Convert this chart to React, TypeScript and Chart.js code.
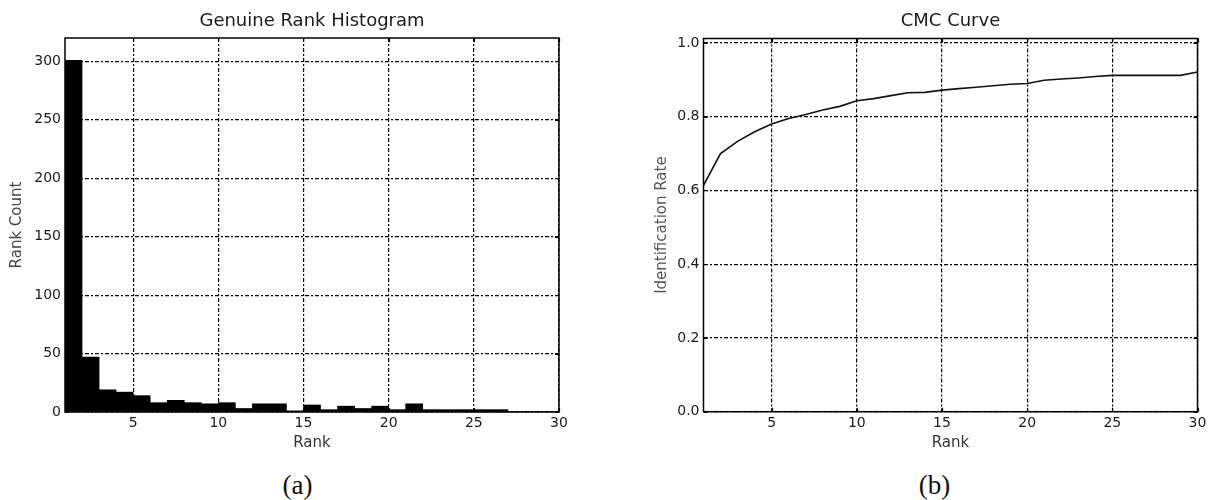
import React, { useEffect, useRef } from "react";
import { Chart, registerables } from "chart.js";

Chart.register(...registerables);

// ---- data ----
const histRanks = [1, 2, 3, 4, 5, 6, 7, 8, 9, 10, 11, 12, 13, 14, 15, 16, 17, 18, 19, 20, 21, 22, 23, 24, 25, 26, 27, 28, 29];
const histCounts = [301, 47, 19, 17, 14, 8, 10, 8, 7, 8, 3, 7, 7, 1, 6, 2, 5, 3, 5, 2, 7, 2, 2, 2, 2, 2, 0, 0, 0];

const cmcRanks = [1, 2, 3, 4, 5, 6, 7, 8, 9, 10, 11, 12, 13, 14, 15, 16, 17, 18, 19, 20, 21, 22, 23, 24, 25, 26, 27, 28, 29, 30];
const cmcRates = [0.614, 0.7, 0.733, 0.759, 0.78, 0.795, 0.806, 0.818, 0.828, 0.843, 0.849, 0.857, 0.865, 0.866, 0.872, 0.876, 0.88, 0.884, 0.888, 0.89, 0.899, 0.902, 0.905, 0.909, 0.912, 0.912, 0.912, 0.912, 0.912, 0.921];

const rankTicks = [5, 10, 15, 20, 25, 30];
const countTicks = [0, 50, 100, 150, 200, 250, 300];
const rateTicks = [0, 0.2, 0.4, 0.6, 0.8, 1.0];

const FONT = "'DejaVu Sans', Verdana, sans-serif";
const TEXT = "#1a1a1a";

function framePlugin(title: string) {
  return {
    id: "frame",
    afterDatasetsDraw(chart: any) {
      const { ctx, chartArea: a } = chart;
      const xs = chart.scales.x;
      const ys = chart.scales.y;
      ctx.save();
      ctx.strokeStyle = "#000";
      ctx.lineWidth = 1.5;
      ctx.strokeRect(a.left, a.top, a.right - a.left, a.bottom - a.top);
      // small inward tick marks
      ctx.lineWidth = 1.2;
      ctx.beginPath();
      xs.ticks.forEach((t: any) => {
        const px = Math.round(xs.getPixelForValue(t.value)) + 0.5;
        ctx.moveTo(px, a.bottom);
        ctx.lineTo(px, a.bottom - 4);
        ctx.moveTo(px, a.top);
        ctx.lineTo(px, a.top + 4);
      });
      ys.ticks.forEach((t: any) => {
        const py = Math.round(ys.getPixelForValue(t.value)) + 0.5;
        ctx.moveTo(a.left, py);
        ctx.lineTo(a.left + 4, py);
        ctx.moveTo(a.right, py);
        ctx.lineTo(a.right - 4, py);
      });
      ctx.stroke();
      ctx.restore();
    },
    afterDraw(chart: any) {
      const { ctx, chartArea: a } = chart;
      ctx.save();
      ctx.fillStyle = TEXT;
      ctx.font = `18px ${FONT}`;
      ctx.textAlign = "center";
      ctx.textBaseline = "middle";
      ctx.fillText(title, (a.left + a.right) / 2, 21.5);
      ctx.restore();
    },
  };
}

function gridOpts() {
  return {
    grid: { color: "#000", lineWidth: 1.2, drawTicks: false },
    border: { display: false, dash: [4, 2, 2, 2] },
  };
}

function makeX(yAxisHeight: number) {
  return {
    type: "linear" as const,
    min: 1,
    max: 30,
    offset: false,
    ...gridOpts(),
    grid: { color: "#000", lineWidth: 1.2, drawTicks: false, offset: false },
    afterBuildTicks: (s: any) => {
      s.ticks = rankTicks.map((v) => ({ value: v }));
    },
    afterFit: (s: any) => {
      s.height = yAxisHeight;
    },
    ticks: {
      autoSkip: false,
      maxRotation: 0,
      padding: 3,
      color: TEXT,
      font: { family: FONT, size: 14 },
      callback: (v: any) => String(v),
    },
    title: {
      display: true,
      text: "Rank",
      color: "#333",
      font: { family: FONT, size: 15 },
      padding: { top: 0, bottom: 8 },
    },
  };
}

function HistChart() {
  const ref = useRef<HTMLCanvasElement>(null);
  useEffect(() => {
    const chart = new Chart(ref.current as HTMLCanvasElement, {
      type: "bar",
      data: {
        datasets: [
          {
            data: histRanks.map((r, i) => ({ x: r + 0.5, y: histCounts[i] })),
            backgroundColor: "#000",
            borderWidth: 0,
            barPercentage: 1,
            categoryPercentage: 1,
          },
        ],
      },
      options: {
        animation: false,
        responsive: false,
        devicePixelRatio: 1,
        layout: { padding: { left: 0, top: 38, right: 41, bottom: 0 } },
        plugins: { legend: { display: false }, tooltip: { enabled: false } },
        scales: {
          x: makeX(48),
          y: {
            type: "linear",
            min: 0,
            max: 320,
            ...gridOpts(),
            afterBuildTicks: (s: any) => {
              s.ticks = countTicks.map((v) => ({ value: v }));
            },
            afterFit: (s: any) => {
              s.width = 65;
            },
            ticks: {
              autoSkip: false,
              padding: 4,
              color: TEXT,
              font: { family: FONT, size: 14 },
              callback: (v: any) => String(v),
            },
            title: {
              display: true,
              text: "Rank Count",
              color: "#444",
              font: { family: FONT, size: 15 },
              padding: { top: 8, bottom: 0 },
            },
          },
        },
      } as any,
      plugins: [framePlugin("Genuine Rank Histogram")],
    });
    return () => chart.destroy();
  }, []);
  return <canvas ref={ref} width={600} height={460} style={{ position: "absolute", left: 0, top: 0 }} />;
}

function CmcChart() {
  const ref = useRef<HTMLCanvasElement>(null);
  useEffect(() => {
    const chart = new Chart(ref.current as HTMLCanvasElement, {
      type: "line",
      data: {
        datasets: [
          {
            data: cmcRanks.map((r, i) => ({ x: r, y: cmcRates[i] })),
            borderColor: "#111",
            borderWidth: 1.6,
            pointRadius: 0,
            tension: 0,
            fill: false,
          },
        ],
      },
      options: {
        animation: false,
        responsive: false,
        devicePixelRatio: 1,
        layout: { padding: { left: 0, top: 38.5, right: 22.5, bottom: 0 } },
        plugins: { legend: { display: false }, tooltip: { enabled: false } },
        scales: {
          x: makeX(48.3),
          y: {
            type: "linear",
            min: 0,
            max: 1.012,
            ...gridOpts(),
            afterBuildTicks: (s: any) => {
              s.ticks = rateTicks.map((v) => ({ value: v }));
            },
            afterFit: (s: any) => {
              s.width = 103.5;
            },
            ticks: {
              autoSkip: false,
              padding: 4,
              color: TEXT,
              font: { family: FONT, size: 14 },
              callback: (v: any) => Number(v).toFixed(1),
            },
            title: {
              display: true,
              text: "Identification Rate",
              color: "#555",
              font: { family: FONT, size: 15 },
              padding: { top: 52.7, bottom: 0 },
            },
          },
        },
      } as any,
      plugins: [framePlugin("CMC Curve")],
    });
    return () => chart.destroy();
  }, []);
  return <canvas ref={ref} width={620} height={460} style={{ position: "absolute", left: 600, top: 0 }} />;
}

const capStyle: React.CSSProperties = {
  position: "absolute",
  width: 100,
  top: 470,
  height: 30,
  lineHeight: "30px",
  textAlign: "center",
  fontFamily: "'Liberation Serif', 'DejaVu Serif', serif",
  fontSize: 27,
  color: "#111",
};

export default function App() {
  return (
    <div
      style={{
        position: "absolute",
        left: 0,
        top: 0,
        width: 1209,
        height: 500,
        overflow: "hidden",
        background: "#fff",
      }}
    >
      <HistChart />
      <CmcChart />
      <div style={{ ...capStyle, left: 297.5 - 50 }}>(a)</div>
      <div style={{ ...capStyle, left: 934.5 - 50 }}>(b)</div>
    </div>
  );
}
